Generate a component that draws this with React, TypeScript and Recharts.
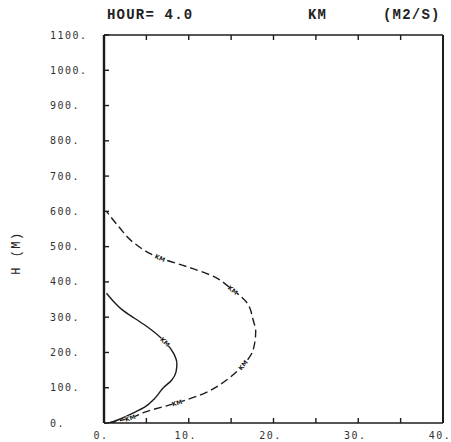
import { Line, LineChart, XAxis, YAxis } from "recharts";

// profile values, bottom to top: x = KM (M2/S), h = height (M)
const solidX = [0.6, 2.0, 3.4, 4.8, 6.0, 7.0, 8.0, 8.5, 8.6, 8.2, 7.2, 5.1, 3.6, 2.2, 1.0, 0.3];
const solidH = [0, 12, 28, 45, 70, 100, 122, 145, 168, 198, 230, 273, 297, 320, 348, 368];
const solidMarks = [230];

const dashX = [0.5, 3.1, 4.8, 8.6, 11.3, 14.9, 16.4, 17.6, 17.9, 17.6, 16.9, 15.2, 12.5, 9.8, 6.6, 3.4, 1.8, 0.3];
const dashH = [0, 14, 31, 57, 79, 130, 164, 207, 260, 292, 340, 377, 420, 443, 468, 513, 555, 600];
const dashMarks = [14, 57, 164, 377, 468];

const xTicks = [0, 5, 10, 15, 20, 25, 30, 35, 40];
const yTicks = [0, 100, 200, 300, 400, 500, 600, 700, 800, 900, 1000, 1100];

const build = (xs: number[], hs: number[], marks: number[]) =>
  xs.map((x, i) => ({ x, h: hs[i], mark: marks.includes(hs[i]) }));

const solidData = build(solidX, solidH, solidMarks);
const dashData = build(dashX, dashH, dashMarks);

const INK = "#1c1c1c";
const tickFont = { fontFamily: "DejaVu Sans Mono", fontSize: 10, letterSpacing: 1.5, fill: "#333" };
const TL = 5; // inward tick length, px
const TW = 1.4; // tick thickness
const LEFT_GAP = 54;
const BOTTOM_GAP = 12;

// ticks are drawn as small filled rects pointing into the frame
function YTick(props: any) {
  const x = Number(props.x);
  const y = Number(props.y);
  const ax = x + LEFT_GAP;
  return (
    <g>
      <rect x={ax} y={y - TW / 2} width={TL} height={TW} fill={INK} />
      <text x={x} y={y} dy="0.35em" textAnchor="start" {...tickFont}>
        {`${props.payload.value}.`}
      </text>
    </g>
  );
}

function XTick(props: any) {
  const x = Number(props.x);
  const y = Number(props.y);
  const ay = y - BOTTOM_GAP;
  const v = props.payload.value;
  return (
    <g>
      <rect x={x - TW / 2} y={ay - TL} width={TW} height={TL} fill={INK} />
      {v % 10 === 0 && (
        <text x={x - 3} y={y} dy="0.35em" textAnchor="middle" {...tickFont}>
          {`${v}.`}
        </text>
      )}
    </g>
  );
}

function TopTick(props: any) {
  const x = Number(props.x);
  const y = Number(props.y);
  return <rect x={x - TW / 2} y={y} width={TW} height={TL} fill={INK} />;
}

function RightTick(props: any) {
  const x = Number(props.x);
  const y = Number(props.y);
  return <rect x={x - TL} y={y - TW / 2} width={TL} height={TW} fill={INK} />;
}

function KmDot(props: any) {
  const { cx, cy, payload, points, index } = props;
  if (!payload || !payload.mark) return <g key={`d-${index}`} />;
  const a = points[Math.max(0, index - 1)];
  const b = points[Math.min(points.length - 1, index + 1)];
  let ang = (Math.atan2(b.y - a.y, b.x - a.x) * 180) / Math.PI;
  if (ang > 90) ang -= 180;
  if (ang < -90) ang += 180;
  return (
    <g key={`d-${index}`} transform={`translate(${cx},${cy}) rotate(${ang})`}>
      <rect x={-5} y={-2.5} width={10} height={5} fill="#fff" />
      <text
        textAnchor="middle"
        dy={2.2}
        fontSize={6}
        fontWeight="bold"
        fontFamily="DejaVu Sans"
        fill={INK}
      >
        KM
      </text>
    </g>
  );
}

const titleStyle: React.CSSProperties = {
  position: "absolute",
  fontFamily: "Liberation Mono",
  fontWeight: "bold",
  fontSize: 14,
  letterSpacing: 1.2,
  color: "#222",
  lineHeight: "16px",
};

export default function App() {
  return (
    <div style={{ position: "absolute", left: 0, top: 0, width: 451, height: 442, background: "#fff", overflow: "hidden" }}>
      <div style={{ ...titleStyle, left: 107, top: 7 }}>HOUR= 4.0</div>
      <div style={{ ...titleStyle, left: 308, top: 7 }}>KM</div>
      <div style={{ ...titleStyle, left: 383, top: 7 }}>(M2/S)</div>
      <div
        style={{
          position: "absolute",
          left: 17,
          top: 253,
          transform: "translate(-50%, -50%) rotate(-90deg)",
          fontFamily: "Liberation Mono",
          fontSize: 12,
          letterSpacing: 1.5,
          color: "#222",
          whiteSpace: "nowrap",
        }}
      >
        H (M)
      </div>
      <LineChart
        width={451}
        height={442}
        layout="vertical"
        margin={{ top: 30, right: 0, bottom: 0, left: 50 }}
      >
        <XAxis
          type="number"
          dataKey="x"
          domain={[0, 40]}
          ticks={xTicks}
          interval={0}
          height={19}
          tickSize={0}
          tickMargin={BOTTOM_GAP}
          tick={XTick}
          tickLine={false}
          axisLine={{ stroke: INK, strokeWidth: 1.6 }}
          allowDataOverflow
        />
        <XAxis
          xAxisId="top"
          orientation="top"
          type="number"
          domain={[0, 40]}
          ticks={xTicks}
          interval={0}
          height={5}
          tickSize={0}
          tickMargin={0}
          tick={TopTick}
          tickLine={false}
          axisLine={{ stroke: INK, strokeWidth: 1.6 }}
          allowDataOverflow
        />
        <YAxis
          type="number"
          dataKey="h"
          domain={[0, 1100]}
          ticks={yTicks}
          interval={0}
          reversed
          width={54}
          tickSize={0}
          tickMargin={LEFT_GAP}
          tick={YTick}
          tickLine={false}
          axisLine={{ stroke: INK, strokeWidth: 2.4 }}
          allowDataOverflow
        />
        <YAxis
          yAxisId="right"
          orientation="right"
          type="number"
          domain={[0, 1100]}
          ticks={yTicks}
          interval={0}
          reversed
          width={8}
          tickSize={0}
          tickMargin={0}
          tick={RightTick}
          tickLine={false}
          axisLine={{ stroke: INK, strokeWidth: 2 }}
          allowDataOverflow
        />
        <Line
          data={solidData}
          dataKey="x"
          type="monotone"
          stroke={INK}
          strokeWidth={1.4}
          dot={KmDot}
          activeDot={false}
          isAnimationActive={false}
        />
        <Line
          data={dashData}
          dataKey="x"
          type="monotone"
          stroke={INK}
          strokeWidth={1.4}
          strokeDasharray="8 4"
          dot={KmDot}
          activeDot={false}
          isAnimationActive={false}
        />
      </LineChart>
    </div>
  );
}
